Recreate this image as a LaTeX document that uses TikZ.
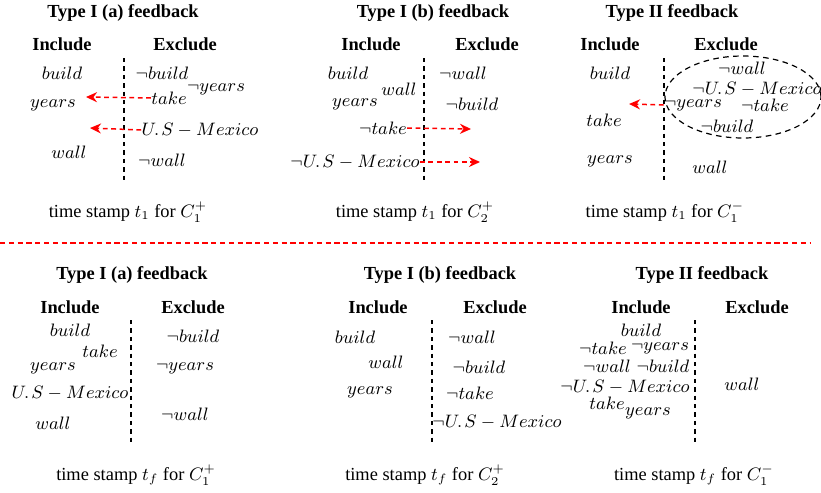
\documentclass[tikz,border=0pt]{standalone}
\usepackage[no-math]{fontspec}
\setmainfont{Liberation Serif}
\usetikzlibrary{arrows.meta,shapes.geometric}
\newcommand{\usm}{U.\mkern2mu S-Mexico}
\begin{document}
\begin{tikzpicture}[x=0.5pt,y=-0.5pt,
  every node/.style={inner sep=0pt,font=\fontsize{9.2}{11}\selectfont},
  ttl/.style={font=\fontsize{9.2}{11}\selectfont\bfseries},
  hdr/.style={font=\fontsize{9.2}{11}\selectfont\bfseries},
  sep/.style={draw=black,line width=0.6pt,dash pattern=on 2.2pt off 2pt},
  redarr/.style={draw=red,line width=0.75pt,dash pattern=on 2.4pt off 1.8pt,-{Stealth[length=5.5pt,width=5pt]}},
  redsep/.style={draw=red,line width=0.6pt,dash pattern=on 2.6pt off 1.8pt},
  ell/.style={ellipse,draw,line width=0.6pt,dash pattern=on 2.8pt off 2.2pt,minimum width=78pt,minimum height=41pt}]
\useasboundingbox (0,0) rectangle (821,493);
% ---------- Panel 1 (top left)
\node[ttl] (t1) at (123,13) {Type I (a) feedback};
\node[hdr] (i1) at (62,44) {Include};
\node[hdr] (e1) at (185,44) {Exclude};
\coordinate (s1a) at (124,58); \coordinate (s1b) at (124,181);
\draw[sep] (s1a) -- (s1b);
\node (p1b) at (62,73) {$build$};
\node (p1y) at (53,105) {$years$};
\node (p1w) at (69,152) {$wall$};
\node (p1nb) at (162,73) {$\neg build$};
\node (p1t) at (169,98) {$take$};
\node (p1ny) at (216,89) {$\neg years$};
\node (p1u) at (200,130) {$\usm$};
\node (p1nw) at (162,160) {$\neg wall$};
\coordinate (a1) at (86,97); \coordinate (a2) at (90,128);
\draw[redarr] (p1t.west) -- (a1);
\draw[redarr] (p1u.west) -- (a2);
\node (c1) at (128,212) {time stamp $t_1$ for $C_1^+$};
% ---------- Panel 2 (top middle)
\node[ttl] (t2) at (433,13) {Type I (b) feedback};
\node[hdr] (i2) at (371,44) {Include};
\node[hdr] (e2) at (487,44) {Exclude};
\coordinate (s2a) at (424,58); \coordinate (s2b) at (424,181);
\draw[sep] (s2a) -- (s2b);
\node (p2b) at (348,73) {$build$};
\node (p2w) at (399,89) {$wall$};
\node (p2y) at (355,104) {$years$};
\node (p2nt) at (383,128) {$\neg take$};
\node (p2nu) at (355,162) {$\neg \usm$};
\node (p2nw) at (463,73) {$\neg wall$};
\node (p2nb) at (472,104) {$\neg build$};
\coordinate (a3) at (471,129); \coordinate (a4) at (480,162);
\draw[redarr] (p2nt.east) -- (a3);
\draw[redarr] (p2nu.east) -- (a4);
\node (c2) at (415,212) {time stamp $t_1$ for $C_2^+$};
% ---------- Panel 3 (top right)
\node[ttl] (t3) at (672,13) {Type II feedback};
\node[hdr] (i3) at (610,44) {Include};
\node[hdr] (e3) at (726,44) {Exclude};
\coordinate (s3a) at (664,58); \coordinate (s3b) at (664,181);
\draw[sep] (s3a) -- (s3b);
\node (p3b) at (610,73) {$build$};
\node (p3t) at (604,120) {$take$};
\node (p3y) at (610,161) {$years$};
\node[ell] (el) at (743,97) {};
\node (p3nw) at (742,68) {$\neg wall$};
\node (p3nu) at (757,89) {$\neg \usm$};
\node (p3ny) at (693,105) {$\neg years$};
\node (p3nt) at (765,105) {$\neg take$};
\node (p3nb) at (727,126) {$\neg build$};
\node (p3w) at (710,167) {$wall$};
\coordinate (a5) at (629,104);
\draw[redarr] (p3ny.west) -- (a5);
\node (c3) at (665,212) {time stamp $t_1$ for $C_1^-$};
% ---------- separator
\coordinate (r1) at (0,243); \coordinate (r2) at (811,243);
\draw[redsep] (r1) -- (r2);
% ---------- Panel 4 (bottom left)
\node[ttl] (t4) at (132,275) {Type I (a) feedback};
\node[hdr] (i4) at (70,307) {Include};
\node[hdr] (e4) at (193,307) {Exclude};
\coordinate (s4a) at (131,320); \coordinate (s4b) at (131,443);
\draw[sep] (s4a) -- (s4b);
\node (p4b) at (70,330) {$build$};
\node (p4t) at (100,351) {$take$};
\node (p4y) at (53,368) {$years$};
\node (p4u) at (70,393) {$\usm$};
\node (p4w) at (53,423) {$wall$};
\node (p4nb) at (193,336) {$\neg build$};
\node (p4ny) at (185,368) {$\neg years$};
\node (p4nw) at (185,414) {$\neg wall$};
\node (c4) at (136,475) {time stamp $t_f$ for $C_1^+$};
% ---------- Panel 5 (bottom middle)
\node[ttl] (t5) at (440,275) {Type I (b) feedback};
\node[hdr] (i5) at (378,307) {Include};
\node[hdr] (e5) at (495,307) {Exclude};
\coordinate (s5a) at (432,320); \coordinate (s5b) at (432,443);
\draw[sep] (s5a) -- (s5b);
\node (p5b) at (355,337) {$build$};
\node (p5w) at (386,362) {$wall$};
\node (p5y) at (370,392) {$years$};
\node (p5nw) at (472,337) {$\neg wall$};
\node (p5nb) at (479,367) {$\neg build$};
\node (p5nt) at (470,393) {$\neg take$};
\node (p5nu) at (497,422) {$\neg \usm$};
\node (c5) at (425,475) {time stamp $t_f$ for $C_2^+$};
% ---------- Panel 6 (bottom right)
\node[ttl] (t6) at (702,275) {Type II feedback};
\node[hdr] (i6) at (641,307) {Include};
\node[hdr] (e6) at (757,307) {Exclude};
\coordinate (s6a) at (695,320); \coordinate (s6b) at (695,443);
\draw[sep] (s6a) -- (s6b);
\node (p6b) at (641,330) {$build$};
\node (p6nt) at (603,348) {$\neg take$};
\node (p6ny) at (660,348) {$\neg years$};
\node (p6nw) at (607,366) {$\neg wall$};
\node (p6nb) at (663,366) {$\neg build$};
\node (p6nu) at (625,387) {$\neg \usm$};
\node (p6t) at (607,403) {$take$};
\node (p6y) at (648,413) {$years$};
\node (p6w) at (742,384) {$wall$};
\node (c6) at (694,475) {time stamp $t_f$ for $C_1^-$};
\end{tikzpicture}
\end{document}
